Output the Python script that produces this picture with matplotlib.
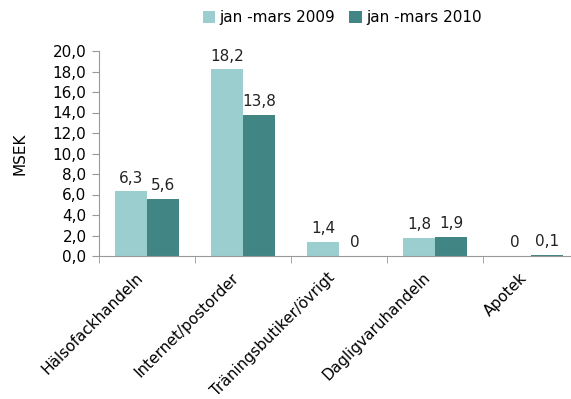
import numpy as np
import matplotlib.pyplot as plt
import matplotlib.transforms as mtransforms

categories = ["Hälsofackhandeln", "Internet/postorder", "Träningsbutiker/övrigt",
              "Dagligvaruhandeln", "Apotek"]
series_names = ["jan -mars 2009", "jan -mars 2010"]
values_2009 = [6.3, 18.2, 1.4, 1.8, 0.0]
values_2010 = [5.6, 13.8, 0.0, 1.9, 0.1]
colors = ["#9BCFCF", "#428585"]

plt.rcParams['font.family'] = ['DejaVu Sans']
fs = 11

fig = plt.figure(figsize=(5.71, 3.99), dpi=100)
ax = fig.add_axes([99 / 571, 1 - 256 / 399, 480 / 571, 205 / 399])

x = np.arange(len(categories))
w = 1 / 3
for i, (vals, name) in enumerate(zip([values_2009, values_2010], series_names)):
    pos = x + (i - 0.5) * w
    ax.bar(pos, vals, width=w, color=colors[i], label=name)
    for p, v in zip(pos, vals):
        txt = f"{v:.1f}".replace(".", ",") if v != 0 else "0"
        ax.annotate(txt, (p, v), xytext=(0, 4), textcoords='offset points',
                    ha='center', va='bottom', fontsize=fs, color='#222222')

ax.set_xlim(-0.5, len(categories) - 0.5)
ax.set_ylim(0, 20)
ax.set_yticks(np.arange(0, 21, 2))
ax.set_yticklabels([f"{t:.1f}".replace(".", ",") for t in np.arange(0, 21, 2)], fontsize=fs)
ax.set_ylabel("MSEK", fontsize=fs, labelpad=18)

ax.set_xticks(x)
ax.set_xticklabels(categories, rotation=45, ha='right', va='top',
                   rotation_mode='anchor', fontsize=fs)
ax.tick_params(axis='x', length=0, pad=10)
# nudge rotated labels a little left of the group centres
shift = mtransforms.ScaledTranslation(-12 / 100, 0, fig.dpi_scale_trans)
for lbl in ax.get_xticklabels():
    lbl.set_transform(lbl.get_transform() + shift)
ax.set_xticks(np.arange(-0.5, len(categories)), minor=True)
ax.tick_params(axis='x', which='minor', length=5, color='#999999')
ax.tick_params(axis='y', length=5, color='#999999', pad=4)

for s in ['top', 'right']:
    ax.spines[s].set_visible(False)
for s in ['left', 'bottom']:
    ax.spines[s].set_color('#999999')

fig.legend(loc='upper left', bbox_to_anchor=(203 / 571, 1 - 10 / 399), ncol=2,
           frameon=False, fontsize=fs, handlelength=0.8, handleheight=0.8,
           handletextpad=0.3, columnspacing=0.9, borderaxespad=0, borderpad=0)

fig.savefig("out.png", dpi=100)
